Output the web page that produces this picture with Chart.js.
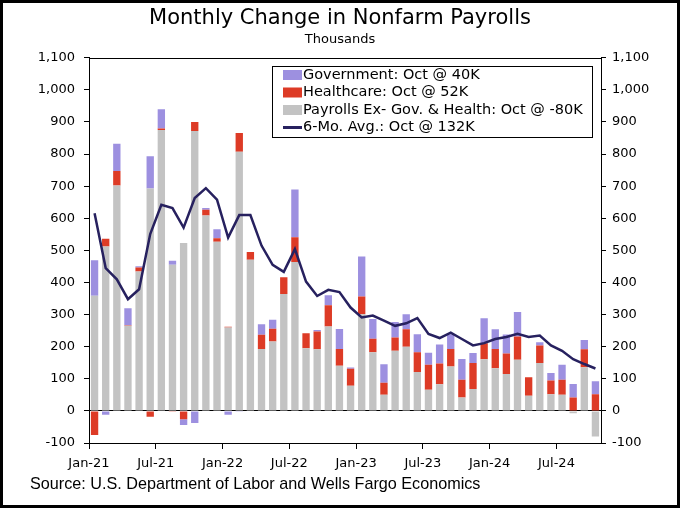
<!DOCTYPE html>
<html>
<head>
<meta charset="utf-8">
<script src="https://cdn.jsdelivr.net/npm/chart.js@4/dist/chart.umd.min.js"></script>
<style>
  html, body { margin: 0; padding: 0; background: #fff; }
  #wrap { position: relative; width: 680px; height: 508px; }
</style>
</head>
<body>
<div id="wrap"><canvas id="payrolls" width="680" height="508"></canvas></div>
<script>
// months, Jan-21 .. Oct-24
const months = [
  'Jan-21','Feb-21','Mar-21','Apr-21','May-21','Jun-21','Jul-21','Aug-21','Sep-21','Oct-21','Nov-21','Dec-21',
  'Jan-22','Feb-22','Mar-22','Apr-22','May-22','Jun-22','Jul-22','Aug-22','Sep-22','Oct-22','Nov-22','Dec-22',
  'Jan-23','Feb-23','Mar-23','Apr-23','May-23','Jun-23','Jul-23','Aug-23','Sep-23','Oct-23','Nov-23','Dec-23',
  'Jan-24','Feb-24','Mar-24','Apr-24','May-24','Jun-24','Jul-24','Aug-24','Sep-24','Oct-24'
];
// thousands
const exGovHealth = [
  359, 512, 702, 265, 434, 693, 875, 455, 523, 872, 609, 527,
  260, 807, 471, 193, 216, 364, 464, 195, 192, 263, 141, 78,
  301, 183, 50, 187, 200, 121, 66, 83, 138, 42, 68, 161,
  133, 115, 159, 47, 149, 52, 50, -7, 136, -80
];
const healthcare = [
  -75, 24, 45, 2, 13, -18, 5, -3, -26, 28, 18, 11,
  2, 59, 24, 44, 40, 52, 77, 47, 55, 66, 52, 53,
  55, 42, 38, 42, 54, 62, 78, 65, 55, 55, 81, 50,
  60, 64, 73, 58, 55, 43, 47, 42, 56, 52
];
const government = [
  110, -12, 85, 53, 4, 100, 60, 13, -18, -38, 5, 28,
  -12, -3, 0, 33, 28, 0, 149, 0, 5, 31, 62, 4,
  125, 61, 57, 48, 47, 56, 37, 59, 46, 65, 31, 78,
  61, 59, 76, 0, 10, 23, 47, 42, 29, 40
];
const sixMoAvg = [
  616, 445, 410, 348, 379, 551, 642, 632, 571, 663, 694, 658,
  540, 610, 610, 515, 455, 433, 504, 403, 358, 377, 370, 322,
  291, 297, 281, 265, 273, 289, 240, 227, 244, 224, 204, 211,
  224, 230, 240, 230, 235, 204, 187, 161, 146, 132
];
const yTicks = [-100, 0, 100, 200, 300, 400, 500, 600, 700, 800, 900, 1000, 1100];

const last = months.length - 1;
const fmt = v => v.toLocaleString('en-US');

const GRAY = '#c3c3c3', RED = '#dd3b26', PURPLE = '#9d90e0', NAVY = '#27215f';

Chart.defaults.font.family = "'DejaVu Sans', Verdana, sans-serif";
Chart.defaults.font.size = 13;
Chart.defaults.color = '#000';

// white background, outer frame, plot frame, source line
const framePlugin = {
  id: 'frame',
  beforeDraw(chart) {
    const c = chart.ctx;
    c.save();
    c.fillStyle = '#fff';
    c.fillRect(0, 0, chart.width, chart.height);
    c.restore();
  },
  afterDraw(chart) {
    const c = chart.ctx, a = chart.chartArea;
    c.save();
    c.strokeStyle = '#000';
    c.lineWidth = 1;
    c.strokeRect(Math.round(a.left) + 0.5, Math.round(a.top) + 0.5,
      Math.round(a.right - a.left), Math.round(a.bottom - a.top));
    c.lineWidth = 3;
    c.strokeRect(1.5, 1.5, chart.width - 3, chart.height - 3);
    c.font = "16.2px 'Liberation Sans', Arial, sans-serif";
    c.fillStyle = '#000';
    c.textBaseline = 'middle';
    c.fillText('Source: U.S. Department of Labor and Wells Fargo Economics', 30, 485);
    c.restore();
  }
};

// boxed legend inside the plot
const boxLegend = {
  id: 'boxLegend',
  afterDatasetsDraw(chart) {
    const c = chart.ctx;
    const x0 = 272, y0 = 66, w = 320, h = 71;
    const order = [2, 1, 0, 3];
    c.save();
    c.fillStyle = '#fff';
    c.fillRect(x0, y0, w, h);
    c.strokeStyle = '#000';
    c.lineWidth = 1;
    c.strokeRect(x0 + 0.5, y0 + 0.5, w, h);
    c.font = "14.5px 'DejaVu Sans', Verdana, sans-serif";
    c.textBaseline = 'middle';
    order.forEach((di, k) => {
      const ds = chart.data.datasets[di];
      const y = y0 + 9 + k * 17.5;
      if (ds.type === 'line') {
        c.fillStyle = ds.borderColor;
        c.fillRect(x0 + 11, y - 1.5, 19, 3);
      } else {
        c.fillStyle = ds.backgroundColor;
        c.fillRect(x0 + 11, y - 5, 19, 10);
      }
      c.fillStyle = '#000';
      c.fillText(ds.label, x0 + 31, y);
    });
    c.restore();
  }
};

const yAxis = (pos, width) => ({
  type: 'linear',
  position: pos,
  min: yTicks[0],
  max: yTicks[yTicks.length - 1],
  afterBuildTicks: s => { s.ticks = yTicks.map(v => ({ value: v })); },
  afterFit: s => { s.width = width; },
  border: { display: true, color: '#000' },
  grid: {
    drawOnChartArea: pos === 'left',
    color: ctx => (ctx.tick && ctx.tick.value === 0) ? '#000' : 'rgba(0,0,0,0)',
    tickColor: '#000',
    tickLength: 5
  },
  ticks: { padding: pos === 'left' ? 9 : 6, callback: v => fmt(v) }
});

new Chart(document.getElementById('payrolls'), {
  data: {
    labels: months,
    datasets: [
      { type: 'bar', label: `Payrolls Ex- Gov. & Health: Oct @ ${exGovHealth[last]}K`,
        data: exGovHealth, backgroundColor: GRAY, order: 1, yAxisID: 'y' },
      { type: 'bar', label: `Healthcare: Oct @ ${healthcare[last]}K`,
        data: healthcare, backgroundColor: RED, order: 1, yAxisID: 'y' },
      { type: 'bar', label: `Government: Oct @ ${government[last]}K`,
        data: government, backgroundColor: PURPLE, order: 1, yAxisID: 'y' },
      { type: 'line', label: `6-Mo. Avg.: Oct @ ${sixMoAvg[last]}K`,
        data: sixMoAvg, borderColor: NAVY, backgroundColor: NAVY, borderWidth: 2.5,
        pointRadius: 0, tension: 0, order: 0, yAxisID: 'y' }
    ]
  },
  options: {
    responsive: false,
    animation: false,
    events: [],
    layout: { padding: { top: 0, left: 0, right: 0, bottom: 30 } },
    datasets: { bar: { categoryPercentage: 1, barPercentage: 0.66 } },
    plugins: {
      legend: { display: false },
      tooltip: { enabled: false },
      title: {
        display: true,
        text: 'Monthly Change in Nonfarm Payrolls',
        font: { size: 21, weight: 'normal' },
        color: '#000',
        padding: { top: 6, bottom: 0 }
      },
      subtitle: {
        display: true,
        text: 'Thousands',
        font: { size: 13 },
        color: '#000',
        padding: { top: 1, bottom: 10 }
      }
    },
    scales: {
      x: {
        stacked: true,
        offset: true,
        afterFit: s => { s.height = 35; },
        border: { display: true, color: '#000' },
        grid: {
          offset: true,
          drawOnChartArea: false,
          tickLength: 6,
          tickColor: ctx => (ctx.index % 6 === 0 || ctx.index === months.length) ? '#000' : 'rgba(0,0,0,0)'
        },
        ticks: {
          autoSkip: false,
          maxRotation: 0,
          padding: 7,
          labelOffset: -5.6,
          callback: (v, i) => (i % 6 === 0 ? months[i] : '')
        }
      },
      y: Object.assign(yAxis('left', 89), { stacked: true }),
      y2: yAxis('right', 79)
    }
  },
  plugins: [framePlugin, boxLegend]
});
</script>
</body>
</html>
